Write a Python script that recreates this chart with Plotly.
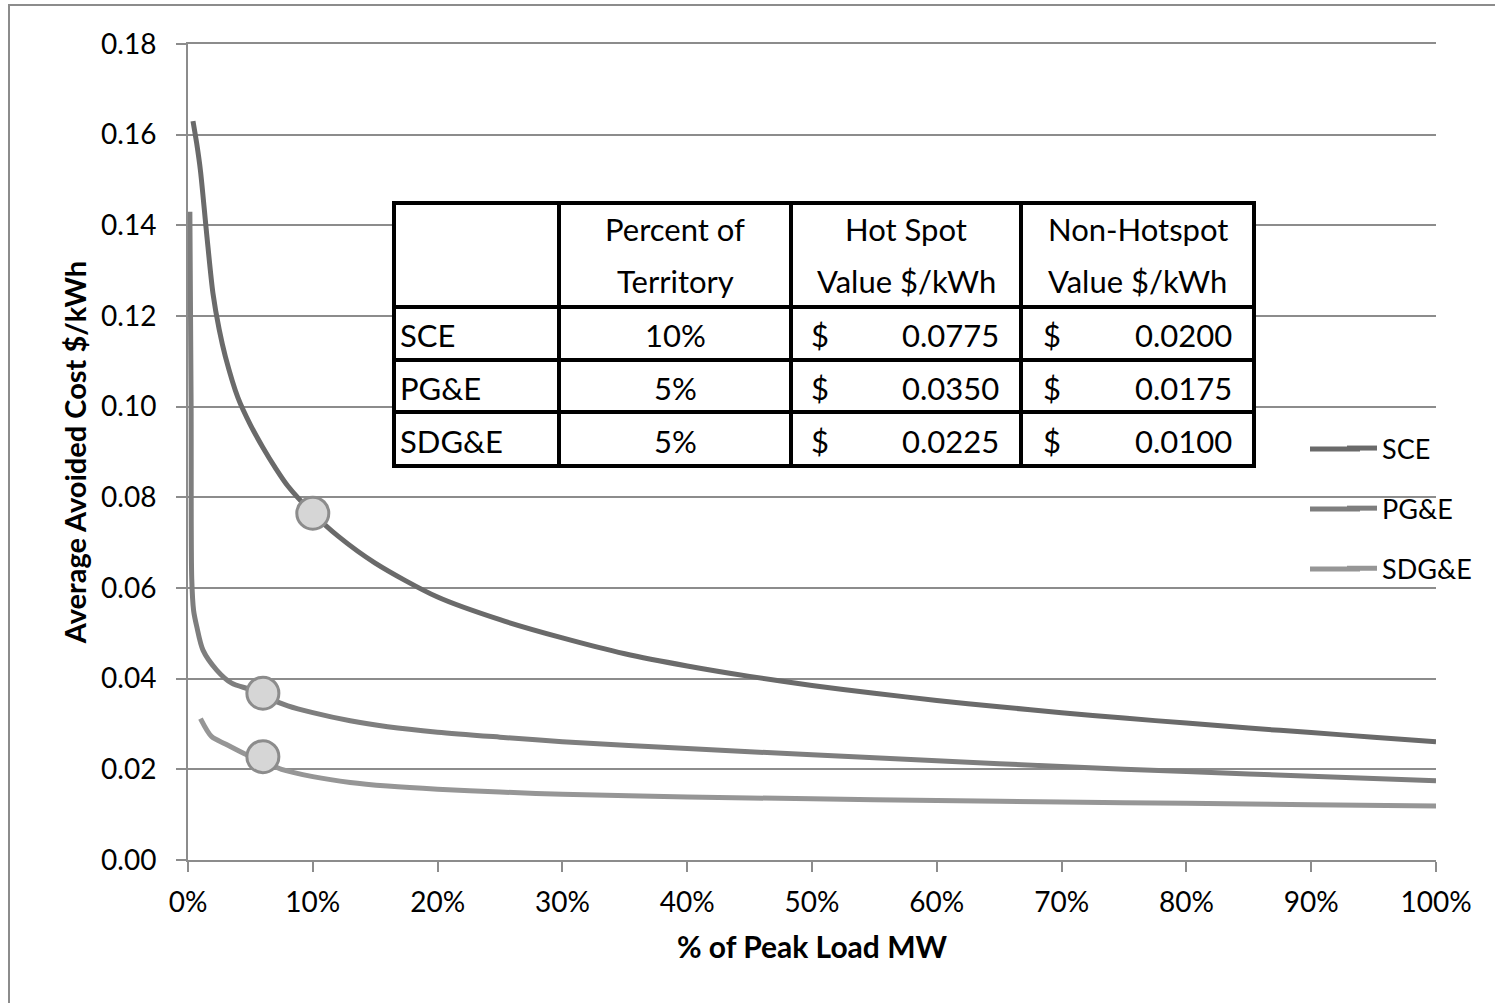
import plotly.graph_objects as go

# ---------------- data ----------------
sce_x = [0.4, 0.7, 1.0, 1.5, 2.0, 2.5, 3, 4, 5, 6, 7, 8, 10, 12, 15, 20, 25, 30, 35,
         40, 45, 50, 55, 60, 65, 70, 75, 80, 85, 90, 95, 100]
sce_y = [0.163, 0.158, 0.152, 0.138, 0.125, 0.117, 0.111, 0.102, 0.096, 0.091, 0.0865,
         0.0825, 0.0765, 0.0715, 0.0655, 0.058, 0.053, 0.049, 0.0455, 0.0428, 0.0405,
         0.0385, 0.0368, 0.0352, 0.0338, 0.0325, 0.0313, 0.0302, 0.0291, 0.0281,
         0.0271, 0.0261]

pge_x = [0.15, 0.25, 0.3, 0.45, 0.7, 1.2, 2.3, 3.5, 5, 6, 8, 10, 13, 16, 20, 25, 30,
         40, 50, 60, 70, 80, 90, 100]
pge_y = [0.143, 0.100, 0.062, 0.055, 0.0515, 0.0463, 0.0419, 0.0390, 0.0376, 0.0362,
         0.0340, 0.0325, 0.0307, 0.0294, 0.0282, 0.0271, 0.0261, 0.0246, 0.0232,
         0.0219, 0.0206, 0.0195, 0.0185, 0.0175]

sdge_x = [1.0, 1.9, 3.0, 4.7, 6.0, 7.5, 10, 13, 16, 20, 25, 30, 40, 50, 60, 70, 80,
          90, 100]
sdge_y = [0.0312, 0.0272, 0.0256, 0.0232, 0.0217, 0.0200, 0.0184, 0.0171, 0.0163,
          0.0156, 0.0150, 0.0145, 0.0139, 0.0135, 0.0131, 0.0128, 0.0125, 0.0122,
          0.0119]

marker_x = [10, 6, 6]
marker_y = [0.0765, 0.0368, 0.0228]

x_ticks = [0, 10, 20, 30, 40, 50, 60, 70, 80, 90, 100]
x_tick_labels = ["0%", "10%", "20%", "30%", "40%", "50%", "60%", "70%", "80%", "90%",
                 "100%"]

table_header_1 = ["", "Percent of", "Hot Spot", "Non-Hotspot"]
table_header_2 = ["", "Territory", "Value $/kWh", "Value $/kWh"]
table_utility = ["SCE", "PG&E", "SDG&E"]
table_percent = ["10%", "5%", "5%"]
table_hot = [0.0775, 0.0350, 0.0225]
table_non_hot = [0.0200, 0.0175, 0.0100]

# ---------------- figure ----------------
W, H = 1495, 1003
L, R, T, B = 188, 1436, 44, 860   # plot area in pixels
FONT = "Lato, Carlito, Calibri, sans-serif"


def px(x):
    return (x - L) / (R - L)


def py(y):
    return (B - y) / (B - T)


fig = go.Figure()
series = [("SCE", sce_x, sce_y, "#6a6a6a"),
          ("PG&E", pge_x, pge_y, "#7e7e7e"),
          ("SDG&E", sdge_x, sdge_y, "#969696")]
for name, xs, ys, col in series:
    fig.add_trace(go.Scatter(x=xs, y=ys, mode="lines", name=name, legendgroup=name,
                             line=dict(color=col, width=5, shape="spline",
                                       smoothing=0.8)))

fig.add_trace(go.Scatter(x=marker_x, y=marker_y, mode="markers", showlegend=False,
                         marker=dict(size=32, color="#d6d6d6",
                                     line=dict(color="#8c8c8c", width=3))))

shapes = []
# outer chart border (left + top visible)
shapes.append(dict(type="rect", xref="paper", yref="paper", x0=px(9), x1=px(W + 20),
                   y0=py(H + 20), y1=py(5), line=dict(color="#8c8c8c", width=2),
                   layer="below"))
# white area behind the legend (hides grid lines)
shapes.append(dict(type="rect", xref="paper", yref="paper", x0=px(1296), x1=px(1437),
                   y0=py(600), y1=py(420), fillcolor="white", line=dict(width=0),
                   layer="between"))
# longer legend line samples (Excel-style)
leg_y = [449, 509, 569]
for (name, xs, ys, col), ly in zip(series, leg_y):
    shapes.append(dict(type="line", xref="paper", yref="paper", x0=px(1310), x1=px(1360),
                       y0=py(ly), y1=py(ly), line=dict(color=col, width=5),
                       layer="above"))

# table
col_x = [394, 559, 791, 1021, 1254]
row_y = [203, 307, 360, 412, 466]
shapes.append(dict(type="rect", xref="paper", yref="paper", x0=px(col_x[0]), x1=px(col_x[-1]),
                   y0=py(row_y[-1]), y1=py(row_y[0]), fillcolor="white",
                   line=dict(width=0), layer="above"))
for cx in col_x:
    shapes.append(dict(type="line", xref="paper", yref="paper", x0=px(cx), x1=px(cx),
                       y0=py(row_y[-1] + 2), y1=py(row_y[0] - 2),
                       line=dict(color="black", width=4), layer="above"))
for ry in row_y:
    shapes.append(dict(type="line", xref="paper", yref="paper", x0=px(col_x[0] - 2),
                       x1=px(col_x[-1] + 2), y0=py(ry), y1=py(ry),
                       line=dict(color="black", width=4), layer="above"))

annotations = []
TFS = 31


def ann(text, x, y, xanchor="center"):
    annotations.append(dict(text=text, x=px(x), y=py(y), xref="paper", yref="paper",
                            xanchor=xanchor, yanchor="middle", showarrow=False,
                            font=dict(family=FONT, size=TFS, color="black")))


centers = [(col_x[i] + col_x[i + 1]) / 2 for i in range(4)]
for i in range(1, 4):
    ann(table_header_1[i], centers[i], 229)
    ann(table_header_2[i], centers[i], 281)
row_c = [(row_y[i] + row_y[i + 1]) / 2 + 2 for i in range(1, 4)]
for r in range(3):
    ann(table_utility[r], col_x[0] + 4, row_c[r], "left")
    ann(table_percent[r], centers[1], row_c[r])
    ann("$", col_x[2] + 18, row_c[r], "left")
    ann(f"{table_hot[r]:.4f}", col_x[3] - 20, row_c[r], "right")
    ann("$", col_x[3] + 20, row_c[r], "left")
    ann(f"{table_non_hot[r]:.4f}", col_x[4] - 20, row_c[r], "right")

axis_col = "#8c8c8c"
fig.update_layout(
    width=W, height=H,
    margin=dict(l=L, r=W - R, t=T, b=H - B, pad=0),
    paper_bgcolor="white", plot_bgcolor="white",
    font=dict(family=FONT, size=28, color="black"),
    showlegend=True,
    legend=dict(x=px(1342), y=py(424), xanchor="left", yanchor="top",
                bgcolor="rgba(0,0,0,0)", font=dict(family=FONT, size=27, color="black"),
                tracegroupgap=22, itemsizing="constant"),
    xaxis=dict(range=[0, 100], tickvals=x_ticks, ticktext=x_tick_labels, showgrid=False,
               zeroline=False, showline=True, mirror=True, linecolor=axis_col,
               linewidth=2, ticks="outside", ticklen=10, tickwidth=2, tickcolor=axis_col,
               ticklabelstandoff=6,
               tickfont=dict(family=FONT, size=28, color="black"),
               title=dict(text="<b>% of Peak Load MW</b>", standoff=20,
                          font=dict(family=FONT, size=30, color="black"))),
    yaxis=dict(range=[0, 0.18], dtick=0.02, tickformat=".2f", showgrid=True,
               gridcolor=axis_col, gridwidth=2, zeroline=False, showline=True,
               linecolor=axis_col, linewidth=2, ticks="outside", ticklen=10,
               tickwidth=2, tickcolor=axis_col, ticklabelstandoff=14,
               tickfont=dict(family=FONT, size=28, color="black"),
               title=dict(text="<b>Average Avoided Cost $/kWh</b>", standoff=6,
                          font=dict(family=FONT, size=29, color="black"))),
    shapes=shapes, annotations=annotations,
)

fig.write_html("out.html")
